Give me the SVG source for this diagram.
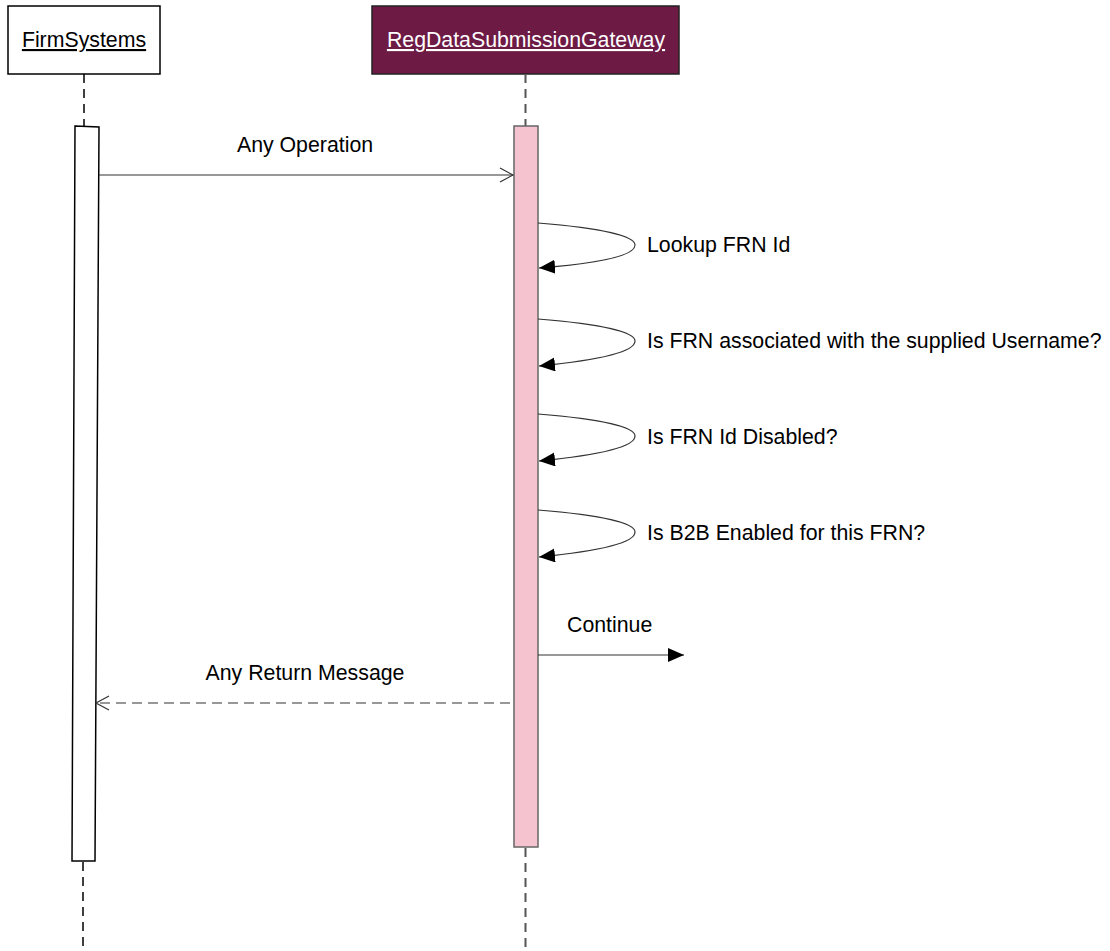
<svg xmlns="http://www.w3.org/2000/svg" width="1110" height="951" viewBox="0 0 1110 951">
<defs>
<style>
text{font-family:"Liberation Sans",Arial,sans-serif;font-size:21.3px;fill:#000}
.life{stroke:#000;stroke-width:1.5;stroke-dasharray:9,6;fill:none}
.life2{stroke:#555;stroke-width:2;stroke-dasharray:9,6;fill:none}
.msg{stroke:#333;stroke-width:1.2;fill:none}
</style>
<marker id="open" markerWidth="16" markerHeight="16" refX="14" refY="8" orient="auto" markerUnits="userSpaceOnUse"><path d="M1,1 L14,8 L1,15" fill="none" stroke="#333" stroke-width="1.2"/></marker>
<marker id="filled" markerWidth="18" markerHeight="16" refX="16" refY="7" orient="auto" markerUnits="userSpaceOnUse"><path d="M0,0 L16,7 L0,14 Z" fill="#000"/></marker>
</defs>
<g id="firm">
<rect x="8" y="6" width="152" height="68" fill="#fff" stroke="#000" stroke-width="1.5"/>
<text x="84" y="47" text-anchor="middle" text-decoration="underline">FirmSystems</text>
<line class="life" x1="84" y1="74" x2="84" y2="126"/>
<polygon points="75,126 99,127 95,861 72,861" fill="#fff" stroke="#000" stroke-width="1.5"/>
<line class="life" x1="83" y1="862" x2="83" y2="951"/>
</g>
<g id="gateway">
<rect x="372" y="6" width="307" height="68" fill="#6d1a45" stroke="#222" stroke-width="1.5"/>
<text x="526" y="47" text-anchor="middle" text-decoration="underline" style="fill:#fff">RegDataSubmissionGateway</text>
<line class="life2" x1="525.5" y1="74" x2="525.5" y2="126"/>
<rect x="514" y="126" width="24" height="721" fill="#f5c3d0" stroke="#666" stroke-width="1.5"/>
<line class="life2" x1="525.5" y1="848" x2="525.5" y2="951"/>
</g>
<g id="connectors">
<line class="msg" x1="99" y1="175" x2="513" y2="175" marker-end="url(#open)"/>
<text x="305" y="152" text-anchor="middle">Any Operation</text>
<path class="msg" d="M538,223 C600,228 635,236 635,245 C635,257 590,264 539,268" marker-end="url(#filled)"/>
<text x="647" y="252">Lookup FRN Id</text>
<path class="msg" d="M538,319 C600,324 635,332 635,341 C635,353 590,361 539,366" marker-end="url(#filled)"/>
<text x="647" y="348">Is FRN associated with the supplied Username?</text>
<path class="msg" d="M538,414 C600,419 635,427 635,436 C635,448 590,456 539,461" marker-end="url(#filled)"/>
<text x="647" y="444">Is FRN Id Disabled?</text>
<path class="msg" d="M538,510 C600,515 635,523 635,532 C635,544 590,552 539,557" marker-end="url(#filled)"/>
<text x="647" y="540">Is B2B Enabled for this FRN?</text>
<line class="msg" x1="538" y1="655" x2="684" y2="655" marker-end="url(#filled)"/>
<text x="567" y="632">Continue</text>
<line class="msg" x1="510" y1="703" x2="96" y2="703" stroke-dasharray="10,6" marker-end="url(#open)"/>
<text x="305" y="680" text-anchor="middle">Any Return Message</text>
</g>
</svg>
